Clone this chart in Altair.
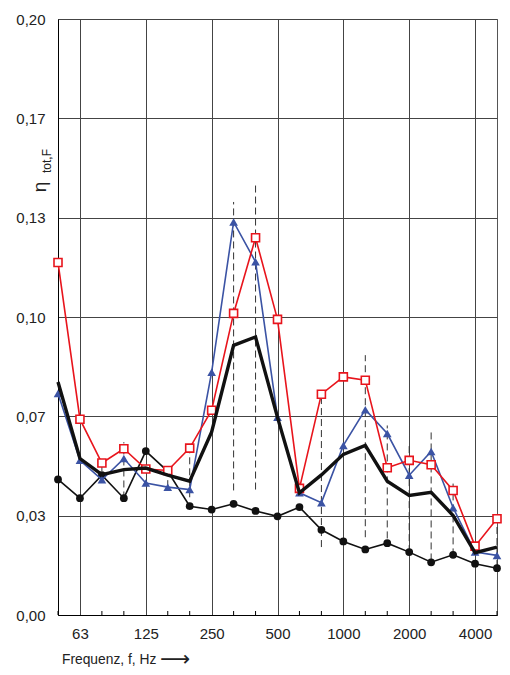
import altair as alt
import pandas as pd

# third-octave band centre frequencies (Hz)
freqs = [50, 63, 80, 100, 125, 160, 200, 250, 315, 400, 500, 630, 800,
         1000, 1250, 1600, 2000, 2500, 3150, 4000, 5000]
octave_labels = [63, 125, 250, 500, 1000, 2000, 4000]

red_sq = [0.1183, 0.0657, 0.0510, 0.0558, 0.0490, 0.0485, 0.0560, 0.0687, 0.1012, 0.1266,
          0.0992, 0.0425, 0.0741, 0.0799, 0.0788, 0.0494, 0.0519, 0.0504, 0.0418, 0.0231, 0.0323]
blue_tri = [0.0743, 0.0519, 0.0454, 0.0525, 0.0443, 0.0429, 0.0421, 0.0815, 0.1319, 0.1185,
            0.0664, 0.0410, 0.0377, 0.0569, 0.0689, 0.0609, 0.0469, 0.0549, 0.0360, 0.0211, 0.0200]
black_thick = [0.0782, 0.0525, 0.0471, 0.0488, 0.0493, 0.0469, 0.0449, 0.0614, 0.0905, 0.0933,
               0.0663, 0.0410, 0.0470, 0.0539, 0.0569, 0.0449, 0.0401, 0.0412, 0.0334, 0.0209, 0.0228]
black_dot = [0.0455, 0.0392, 0.0469, 0.0392, 0.0550, 0.0482, 0.0365, 0.0354, 0.0373, 0.0349,
             0.0331, 0.0362, 0.0286, 0.0247, 0.0220, 0.0241, 0.0211, 0.0177, 0.0202, 0.0172, 0.0157]

# dashed range bars
range_freqs = [80, 100, 160, 200, 315, 400, 800, 1250, 1600, 2000, 2500, 3150, 5000]
range_hi = [0.0502, 0.0580, 0.0496, 0.0564, 0.1386, 0.1444, 0.0744, 0.0872, 0.0636, 0.0569, 0.0614, 0.0441, 0.0328]
range_lo = [0.0446, 0.0391, 0.0429, 0.0395, 0.0418, 0.0421, 0.0228, 0.0261, 0.0257, 0.0211, 0.0183, 0.0200, 0.0161]

y_ticks = [round(k * 0.2 / 6, 6) for k in range(7)]

idx = list(range(len(freqs)))
df = pd.DataFrame({"idx": idx, "freq": freqs, "red": red_sq, "blue": blue_tri,
                   "thick": black_thick, "dot": black_dot})
rng = pd.DataFrame({"idx": [freqs.index(f) for f in range_freqs], "lo": range_lo, "hi": range_hi})
minor = pd.DataFrame({"idx": [i for i, f in enumerate(freqs) if f not in octave_labels]})
one = pd.DataFrame({"a": [0]})

W, H = 439, 596
FONT = "Liberation Sans"
RED = "#e8141c"
BLUE = "#3b53a4"

xs = alt.Scale(domain=[0, len(freqs) - 1], nice=False, zero=False)
ys = alt.Scale(domain=[0, 0.2], nice=False, zero=True)
label_arr = "[" + ",".join(f"'{f}'" for f in freqs) + "]"

xaxis = alt.Axis(values=[freqs.index(f) for f in octave_labels],
                 labelExpr=f"{label_arr}[datum.value]", title=None,
                 grid=True, gridColor="#444", gridWidth=1, ticks=False,
                 domainColor="#000", domainWidth=1, labelFont=FONT, labelFontSize=15,
                 labelColor="#222", labelPadding=11)
yaxis = alt.Axis(values=y_ticks, labelExpr="replace(format(datum.value, '.2f'), '.', ',')",
                 title=None, grid=True, gridColor="#444", gridWidth=1, ticks=False,
                 domainColor="#000", domainWidth=1, labelFont=FONT, labelFontSize=15,
                 labelColor="#222", labelPadding=13)

ranges = alt.Chart(rng).mark_rule(color="#333", strokeWidth=1, strokeDash=[7, 4]).encode(
    x=alt.X("idx:Q", scale=xs, axis=xaxis),
    y=alt.Y("lo:Q", scale=ys, axis=yaxis),
    y2="hi:Q",
)
minor_ticks = alt.Chart(minor).mark_rule(color="#000", strokeWidth=1).encode(
    x=alt.X("idx:Q", scale=xs), y=alt.value(H), y2=alt.value(H - 4))

base = alt.Chart(df)
dot_line = base.mark_line(color="#111", strokeWidth=1.6).encode(
    x=alt.X("idx:Q", scale=xs), y=alt.Y("dot:Q", scale=ys))
dot_pts = base.mark_point(shape="circle", filled=True, color="#111", opacity=1, size=60).encode(
    x=alt.X("idx:Q", scale=xs), y=alt.Y("dot:Q", scale=ys))
blue_line = base.mark_line(color=BLUE, strokeWidth=1.6).encode(
    x=alt.X("idx:Q", scale=xs), y=alt.Y("blue:Q", scale=ys))
blue_pts = base.mark_point(shape="triangle-up", filled=True, color=BLUE, opacity=1, size=75).encode(
    x=alt.X("idx:Q", scale=xs), y=alt.Y("blue:Q", scale=ys))
red_line = base.mark_line(color=RED, strokeWidth=1.6).encode(
    x=alt.X("idx:Q", scale=xs), y=alt.Y("red:Q", scale=ys))
red_pts = base.mark_point(shape="square", filled=True, fill="white", stroke=RED, strokeWidth=1.6,
                          opacity=1, size=64).encode(
    x=alt.X("idx:Q", scale=xs), y=alt.Y("red:Q", scale=ys))
thick_line = base.mark_line(color="#111", strokeWidth=3.4).encode(
    x=alt.X("idx:Q", scale=xs), y=alt.Y("thick:Q", scale=ys))

eta = alt.Chart(one).mark_text(text="η", font=FONT, fontSize=19, angle=270, color="#222",
                               align="center", baseline="middle").encode(
    x=alt.value(-18), y=alt.value(168))
eta_sub = alt.Chart(one).mark_text(text="tot,F", font=FONT, fontSize=12, angle=270, color="#222",
                                   align="center", baseline="middle").encode(
    x=alt.value(-11), y=alt.value(142))
xtitle = alt.Chart(one).mark_text(text="Frequenz,  f, Hz", font=FONT, fontSize=13.8, color="#222",
                                  align="left", baseline="middle").encode(
    x=alt.value(4), y=alt.value(641))
arrow = alt.Chart(one).mark_text(text="⟶", font="DejaVu Sans", fontSize=21, color="#222",
                                 align="left", baseline="middle").encode(
    x=alt.value(102), y=alt.value(641))

chart = alt.layer(
    ranges, minor_ticks, dot_line, dot_pts, blue_line, blue_pts, red_line, red_pts, thick_line,
    eta, eta_sub, xtitle, arrow,
).properties(
    width=W, height=H,
    autosize=alt.AutoSizeParams(type="none"),
    padding={"left": 58, "top": 19, "right": 13, "bottom": 60},
    background="white",
).configure_view(stroke="#555", strokeWidth=1)

chart.save("out.html", embed_options={"renderer": "svg", "actions": False})
